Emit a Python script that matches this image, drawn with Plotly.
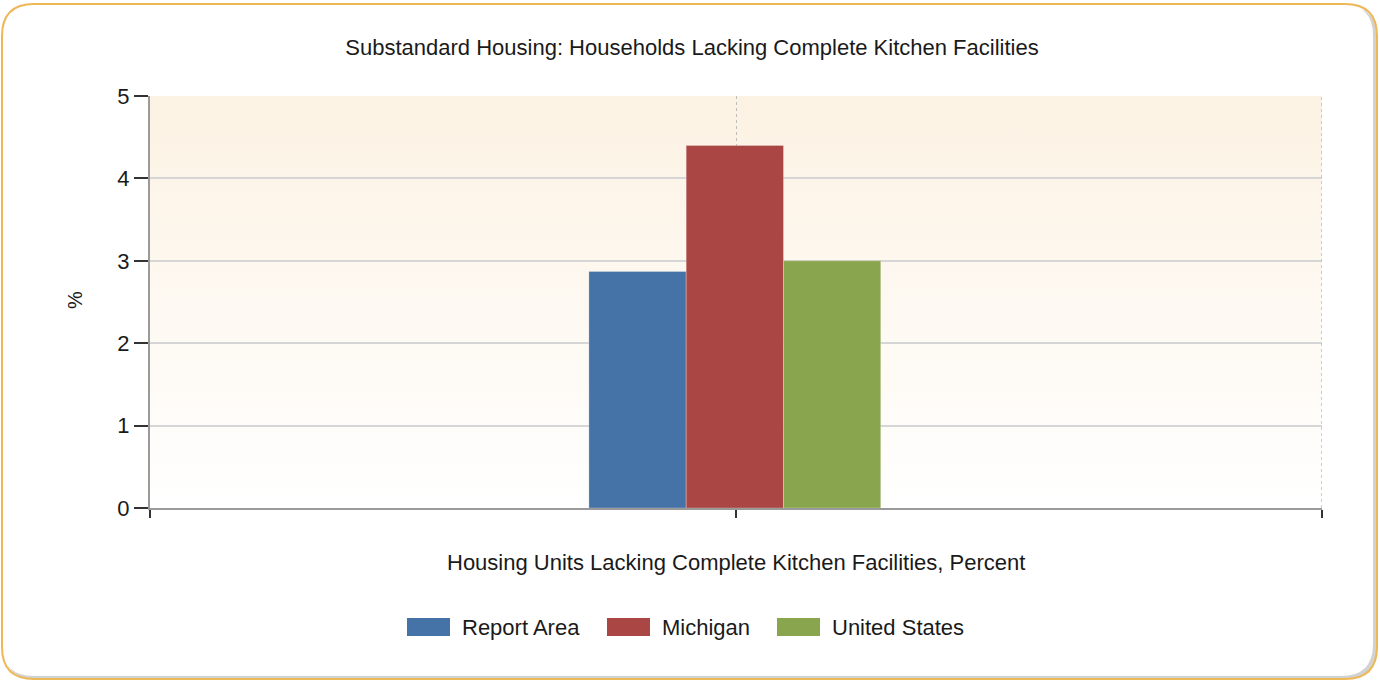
import base64
import plotly.graph_objects as go

# ---- data ----
chart_title = "Substandard Housing: Households Lacking Complete Kitchen Facilities"
category = "Housing Units Lacking Complete Kitchen Facilities, Percent"
series_names = ["Report Area", "Michigan", "United States"]
series_values = [2.87, 4.4, 3.0]
series_colors = ["#4572A7", "#AA4643", "#89A54E"]
y_ticks = [0, 1, 2, 3, 4, 5]
y_label = "%"

# ---- page geometry (pixels) ----
W, H = 1380, 683
L, R, T, B = 150, 1322, 96, 508
FONT = "Liberation Sans, Arial, sans-serif"
TEXT = "#1a1a1a"


def px_x(x):
    return (x - L) / (R - L)


def px_y(y):
    return (B - y) / (B - T)


def rounded_rect(x0, y0, x1, y1, r):
    pts = [
        ("M", (x0 + r, y0)), ("L", (x1 - r, y0)), ("Q", (x1, y0), (x1, y0 + r)),
        ("L", (x1, y1 - r)), ("Q", (x1, y1), (x1 - r, y1)),
        ("L", (x0 + r, y1)), ("Q", (x0, y1), (x0, y1 - r)),
        ("L", (x0, y0 + r)), ("Q", (x0, y0), (x0 + r, y0)),
    ]
    out = []
    for cmd, *ps in pts:
        out.append(cmd + " ".join(f"{px_x(a):.5f},{px_y(b):.5f}" for a, b in ps))
    return " ".join(out) + " Z"


fig = go.Figure()

# grouped bars around the single category position
bar_w = 0.166
n = len(series_names)
for i, (name, val, col) in enumerate(zip(series_names, series_values, series_colors)):
    fig.add_trace(go.Bar(
        x=[1], y=[val], name=name,
        width=bar_w, offset=(i - n / 2) * bar_w - 0.002,
        marker=dict(color=col, line=dict(color="rgba(255,255,255,0.25)", width=1)),
        showlegend=False, hovertemplate=f"{name}: %{{y}}<extra></extra>",
    ))

# soft vertical gradient behind the plotting area
svg = (
    '<svg xmlns="http://www.w3.org/2000/svg" width="100" height="100" preserveAspectRatio="none">'
    '<defs><linearGradient id="g" x1="0" y1="0" x2="0" y2="1">'
    '<stop offset="0" stop-color="#FCF2E3"/><stop offset="1" stop-color="#FFFFFF"/>'
    '</linearGradient></defs><rect width="100" height="100" fill="url(#g)"/></svg>'
)
bg_src = "data:image/svg+xml;base64," + base64.b64encode(svg.encode()).decode()

shapes = [
    # drop shadow, white card, gold border
    dict(type="path", xref="paper", yref="paper", layer="below",
         path=rounded_rect(4, 6, 1377, 679, 32), fillcolor="#d2d2d2", line=dict(width=0)),
    dict(type="path", xref="paper", yref="paper", layer="below",
         path=rounded_rect(2, 4, 1373, 676, 32), fillcolor="#ffffff", line=dict(width=0)),
    dict(type="path", xref="paper", yref="paper", layer="below",
         path=rounded_rect(2, 4, 1377, 679, 32), fillcolor="rgba(0,0,0,0)",
         line=dict(color="#EDB857", width=2)),
    # dotted grid line on the right edge of the plotting area
    dict(type="line", xref="x", yref="y", x0=2, x1=2, y0=0, y1=5,
         line=dict(color="#bdbdbd", width=1.5, dash="dot")),
]

annotations = [
    dict(text=category, xref="paper", yref="paper", x=px_x(736), y=px_y(562),
         xanchor="center", yanchor="middle", showarrow=False,
         font=dict(family=FONT, size=22, color=TEXT)),
    dict(text=y_label, xref="paper", yref="paper", x=px_x(75), y=px_y(300),
         xanchor="center", yanchor="middle", showarrow=False, textangle=-90,
         font=dict(family=FONT, size=20, color=TEXT)),
]

# legend row: swatch + label per series
legend_x = [407, 607, 777]
sw_w, sw_h, ly = 43, 18, 627
for lx, name, col in zip(legend_x, series_names, series_colors):
    shapes.append(dict(type="rect", xref="paper", yref="paper",
                       x0=px_x(lx), x1=px_x(lx + sw_w),
                       y0=px_y(ly + sw_h / 2), y1=px_y(ly - sw_h / 2),
                       fillcolor=col, line=dict(width=0)))
    annotations.append(dict(text=name, xref="paper", yref="paper",
                            x=px_x(lx + sw_w + 10), y=px_y(ly),
                            xanchor="left", yanchor="middle", showarrow=False,
                            font=dict(family=FONT, size=22, color=TEXT)))

fig.update_layout(
    width=W, height=H,
    margin=dict(l=L, r=W - R, t=T, b=H - B, pad=0),
    paper_bgcolor="#ffffff", plot_bgcolor="rgba(0,0,0,0)",
    barmode="overlay",
    title=dict(text=chart_title, x=px_x(692), xref="paper", xanchor="center",
               y=1 - 47 / H, yanchor="middle",
               font=dict(family=FONT, size=22, color=TEXT)),
    xaxis=dict(range=[0, 2], tickvals=[0, 1, 2], showticklabels=False,
               ticks="outside", ticklen=8, tickwidth=2, tickcolor="#333333",
               showgrid=True, gridcolor="#bdbdbd", griddash="dot", gridwidth=1,
               showline=True, linecolor="#9a9a9a", linewidth=2,
               zeroline=False, fixedrange=True),
    yaxis=dict(range=[0, 5], tickvals=y_ticks, ticks="outside", ticklen=14,
               tickwidth=2, tickcolor="#333333",
               tickfont=dict(family=FONT, size=22, color=TEXT),
               showgrid=True, gridcolor="#d6d6d6", gridwidth=1.5,
               showline=True, linecolor="#9a9a9a", linewidth=2,
               zeroline=False, fixedrange=True),
    images=[dict(source=bg_src, xref="x", yref="y", x=0, y=5, sizex=2, sizey=5,
                 xanchor="left", yanchor="top", sizing="stretch", layer="below")],
    shapes=shapes,
    annotations=annotations,
    showlegend=False,
)

fig.write_html("out.html")
